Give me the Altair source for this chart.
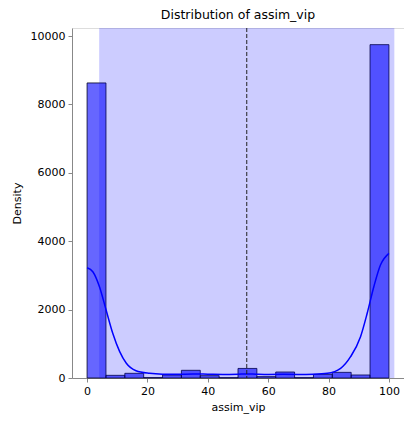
import altair as alt
import pandas as pd

# Histogram (16 bins over 0..100)
bin_edges = [0, 6.25, 12.5, 18.75, 25, 31.25, 37.5, 43.75, 50, 56.25,
             62.5, 68.75, 75, 81.25, 87.5, 93.75, 100]
counts = [8630, 78, 137, 12, 88, 225, 68, 10, 280, 40, 175, 10, 107, 165, 88, 9750]

# KDE curve (scaled to counts)
kde_x = [0, 1.9, 4.1, 6.3, 8.5, 10.8, 13, 16.2, 20.7, 25, 30, 35, 40, 45, 50, 53,
         56, 60, 65, 70, 75, 79.6, 84, 87.3, 90.6, 92.8, 95, 97.2, 100]
kde_y = [3225, 3108, 2670, 1988, 1307, 770, 430, 213, 137, 112, 108, 118, 112, 105,
         112, 120, 112, 105, 108, 105, 112, 137, 283, 623, 1208, 1892, 2670, 3304, 3646]

mean_val = 52.9
span_lo = 4.0
span_hi = 101.8

x_ticks = [0, 20, 40, 60, 80, 100]
y_ticks = [0, 2000, 4000, 6000, 8000, 10000]

FONT = "DejaVu Sans"

hist_df = pd.DataFrame({"x0": bin_edges[:-1], "x1": bin_edges[1:], "count": counts})
kde_df = pd.DataFrame({"x": kde_x, "y": kde_y})
span_df = pd.DataFrame({"lo": [span_lo], "hi": [span_hi]})
mean_df = pd.DataFrame({"m": [mean_val]})

xscale = alt.Scale(domain=[-5, 105], nice=False, zero=False)
yscale = alt.Scale(domain=[0, 10237], nice=False)

xaxis = alt.Axis(values=x_ticks, title="assim_vip", grid=False, tickSize=4,
                 labelPadding=3, titlePadding=5, format="d",
                 titleFontWeight="normal", titleFont=FONT, labelFont=FONT,
                 labelFontSize=11, titleFontSize=11)
yaxis = alt.Axis(values=y_ticks, title="Density", grid=False, tickSize=4,
                 labelPadding=3, titlePadding=8, format="d",
                 titleFontWeight="normal", titleFont=FONT, labelFont=FONT,
                 labelFontSize=11, titleFontSize=11)

bars = alt.Chart(hist_df).mark_rect(
    fill="blue", fillOpacity=0.6, stroke="#000022", strokeOpacity=0.8, strokeWidth=1
).encode(
    x=alt.X("x0:Q", scale=xscale, axis=xaxis),
    x2="x1:Q",
    y=alt.Y("count:Q", scale=yscale, axis=yaxis),
    y2=alt.datum(0),
)

kde = alt.Chart(kde_df).mark_line(color="blue", strokeWidth=1.5, interpolate="monotone").encode(
    x=alt.X("x:Q", scale=xscale),
    y=alt.Y("y:Q", scale=yscale),
)

span = alt.Chart(span_df).mark_rect(fill="blue", opacity=0.2).encode(
    x=alt.X("lo:Q", scale=xscale),
    x2="hi:Q",
    y=alt.value(0),
    y2=alt.value(350),
)

mean_rule = alt.Chart(mean_df).mark_rule(color="#222222", strokeDash=[4, 2], strokeWidth=1).encode(
    x=alt.X("m:Q", scale=xscale),
)

chart = alt.layer(bars, kde, span, mean_rule).properties(
    width=332,
    height=350,
    autosize=alt.AutoSizeParams(type="none"),
    padding={"left": 72, "top": 28, "right": 0, "bottom": 43},
    title=alt.TitleParams("Distribution of assim_vip", anchor="middle", fontSize=12.5,
                          font=FONT, fontWeight="normal", offset=6, color="black"),
).configure_view(
    stroke="black", strokeWidth=1
).configure_axis(
    labelColor="black", titleColor="black",
    domainColor="black", tickColor="black", domainWidth=1,
).configure(background="white")

chart.save("out.html", embed_options={"renderer": "svg", "actions": False})
